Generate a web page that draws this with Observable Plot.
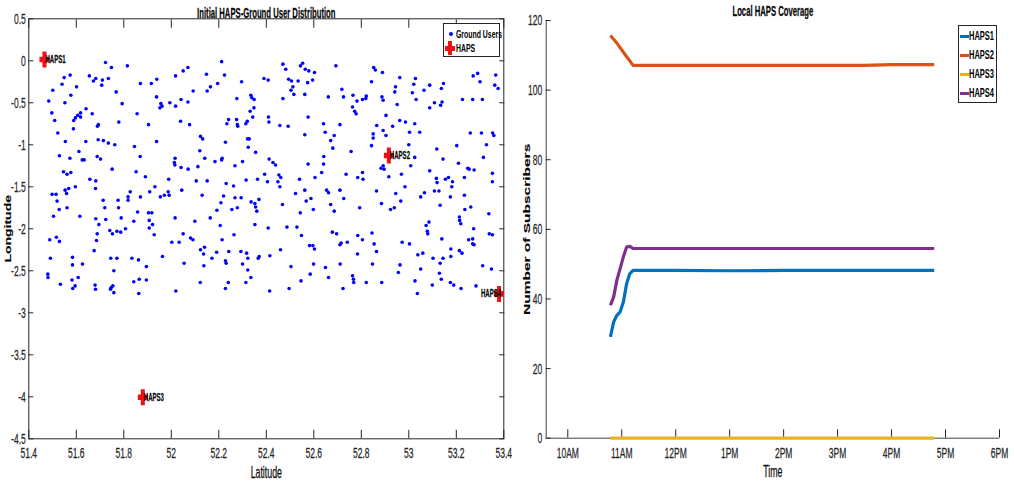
<!DOCTYPE html>
<html>
<head>
<meta charset="utf-8">
<script src="https://cdn.jsdelivr.net/npm/d3@7"></script>
<script src="https://cdn.jsdelivr.net/npm/@observablehq/plot@0.6"></script>
<style>
  html, body { margin: 0; padding: 0; background: #fff; }
  #fig { position: relative; width: 1014px; height: 484px; overflow: hidden;
         font-family: "Liberation Sans", Arial, sans-serif; color: #000; }
  #left, #right { position: absolute; top: 0; }
  #left { left: 0; }
  #right { left: 510px; }
  .legend { position: absolute; border: 1px solid #262626; background: #fff; box-sizing: border-box; }
  .legend .lbl { position: absolute; font-weight: bold; white-space: nowrap;
                 transform: scaleX(0.6); transform-origin: 0 50%; line-height: 1; }
  .legend .sw { position: absolute; }
  svg text { stroke: currentColor; stroke-width: 0.25px; }
</style>
</head>
<body>
<div id="fig">
  <div id="left"></div>
  <div id="right"></div>
</div>
<script>
// ---------- Left panel: ground users and HAPS positions ----------
const latTicks = [51.4, 51.6, 51.8, 52, 52.2, 52.4, 52.6, 52.8, 53, 53.2, 53.4];
const latTickLabels = ["51.4", "51.6", "51.8", "52", "52.2", "52.4", "52.6", "52.8", "53", "53.2", "53.4"];
const lonTicks = [0.5, 0, -0.5, -1, -1.5, -2, -2.5, -3, -3.5, -4, -4.5];
const lonTickLabels = ["0.5", "0", "-0.5", "-1", "-1.5", "-2", "-2.5", "-3", "-3.5", "-4", "-4.5"];

const hapsNames = ["HAPS1", "HAPS2", "HAPS3", "HAPS4"];
const hapsLat = [51.466, 52.916, 51.88, 53.38];
const hapsLon = [0.015, -1.127, -4.005, -2.775];

// [latitude, longitude] of each ground user
const groundUsers = [
  [51.723,-0.02],[51.748,-0.08],[51.815,-0.06],[52.050,-0.12],[52.018,-0.18],[51.549,-0.20],[51.574,-0.17],[51.655,-0.18],
  [51.682,-0.21],[51.672,-0.24],[51.710,-0.23],[51.707,-0.29],[51.735,-0.21],[51.540,-0.28],[51.601,-0.31],[51.870,-0.27],
  [51.916,-0.27],[51.939,-0.22],[51.501,-0.35],[51.768,-0.37],[51.577,-0.41],[51.484,-0.48],[51.552,-0.50],[51.938,-0.43],
  [51.793,-0.51],[51.956,-0.51],[51.961,-0.54],[51.952,-0.56],[51.994,-0.50],[52.018,-0.54],[52.041,-0.46],[51.641,-0.57],
  [51.618,-0.62],[51.606,-0.65],[51.596,-0.68],[51.589,-0.71],[51.618,-0.67],[51.667,-0.63],[51.497,-0.62],[51.509,-0.71],
  [51.856,-0.63],[51.779,-0.73],[51.904,-0.76],[51.693,-0.76],[51.689,-0.78],[52.039,-0.72],[51.588,-0.81],[51.522,-0.86],
  [51.554,-0.96],[51.640,-0.96],[51.692,-0.94],[51.714,-0.95],[51.735,-0.98],[51.762,-1.00],[51.938,-0.96],[51.845,-1.02],
  [51.529,-1.13],[51.573,-1.16],[51.611,-1.08],[51.625,-1.18],[51.633,-1.18],[51.688,-1.14],[51.702,-1.17],[51.869,-1.14],
  [52.016,-1.16],[52.013,-1.21],[52.015,-1.24],[52.041,-1.27],[51.546,-1.32],[51.561,-1.35],[51.577,-1.33],[51.751,-1.29],
  [51.852,-1.32],
  [52.212,-0.01],[52.070,-0.08],[52.148,-0.16],[52.224,-0.17],[52.296,-0.25],[52.195,-0.27],[52.165,-0.31],[52.151,-0.36],
  [52.092,-0.36],[52.070,-0.49],[52.276,-0.45],[52.335,-0.41],[52.339,-0.44],[52.349,-0.46],[52.332,-0.60],[52.348,-0.56],
  [52.343,-0.67],[52.390,-0.21],[52.408,-0.23],[52.470,-0.04],[52.482,-0.10],[52.494,-0.22],[52.506,-0.24],[52.512,-0.31],
  [52.504,-0.35],[52.516,-0.40],[52.534,-0.24],[52.544,-0.06],[52.553,-0.03],[52.564,-0.10],[52.579,-0.12],[52.603,-0.14],
  [52.595,-0.23],[52.574,-0.26],[52.562,-0.40],[52.470,-0.45],[52.693,-0.06],[52.661,-0.43],[52.241,-0.70],[52.234,-0.75],
  [52.275,-0.70],[52.278,-0.76],[52.280,-0.78],[52.320,-0.72],[52.314,-0.75],[52.409,-0.67],[52.411,-0.73],[52.457,-0.77],
  [52.492,-0.78],[52.576,-0.67],[52.077,-0.76],[52.123,-0.90],[52.132,-0.93],[52.228,-0.97],[52.321,-0.93],[52.328,-0.93],
  [52.324,-1.03],[52.355,-1.09],[52.562,-0.88],[52.641,-0.75],[52.710,-0.76],[52.648,-0.85],[52.686,-0.89],[52.671,-0.95],
  [52.680,-1.04],[52.120,-1.07],[52.141,-1.16],[52.184,-1.20],[52.212,-1.18],[52.214,-1.16],[52.268,-1.25],[52.300,-1.20],
  [52.412,-1.17],[52.428,-1.21],[52.439,-1.24],[52.576,-1.23],[52.642,-1.14],[52.641,-1.23],[52.633,-1.33],[52.071,-1.29],
  [52.112,-1.26],[52.393,-1.35],[52.453,-1.36],
  [52.852,-0.08],[52.859,-0.11],[52.889,-0.14],[52.843,-0.25],[52.962,-0.20],[52.944,-0.31],[52.941,-0.37],[53.028,-0.21],
  [53.021,-0.28],[53.015,-0.38],[53.064,-0.35],[53.088,-0.29],[53.146,-0.27],[53.137,-0.33],[53.290,-0.15],[53.271,-0.18],
  [53.300,-0.25],[53.366,-0.17],[53.362,-0.29],[53.376,-0.33],[52.718,-0.34],[52.725,-0.43],[52.765,-0.41],[52.782,-0.48],
  [52.805,-0.46],[52.821,-0.42],[52.819,-0.45],[52.763,-0.55],[52.772,-0.60],[52.778,-0.63],[52.887,-0.43],[52.892,-0.47],
  [52.951,-0.52],[53.031,-0.46],[53.088,-0.56],[53.108,-0.50],[53.134,-0.53],[53.140,-0.49],[53.226,-0.46],[53.269,-0.46],
  [53.310,-0.46],[52.904,-0.65],[52.962,-0.71],[52.986,-0.73],[53.025,-0.75],[52.932,-0.78],[52.865,-0.77],[52.850,-0.87],
  [52.850,-0.92],[52.892,-0.83],[52.904,-0.89],[53.003,-0.85],[53.046,-0.85],[52.843,-1.01],[53.000,-1.00],[53.118,-1.05],
  [53.202,-1.01],[53.259,-0.86],[53.306,-0.86],[53.353,-0.86],[53.358,-0.89],[53.327,-1.00],[53.314,-1.15],[53.144,-1.17],
  [53.209,-1.22],[53.248,-1.28],[53.254,-1.29],[53.275,-1.30],[53.352,-1.34],[52.757,-1.08],[52.892,-1.25],[52.883,-1.28],
  [52.896,-1.29],[52.969,-1.35],[53.008,-1.25],[53.025,-1.15],[53.088,-1.31],[52.736,-1.35],[52.805,-1.33],
  [51.657,-1.41],[51.682,-1.43],[51.681,-1.52],[51.596,-1.50],[51.568,-1.52],[51.553,-1.54],[51.559,-1.58],[51.498,-1.59],
  [51.515,-1.59],[51.519,-1.67],[51.528,-1.77],[51.561,-1.75],[51.504,-1.85],[51.615,-1.85],[51.713,-1.66],[51.720,-1.75],
  [51.776,-1.66],[51.778,-1.75],[51.818,-1.62],[51.818,-1.66],[51.827,-1.56],[51.870,-1.62],[51.909,-1.56],[51.931,-1.50],
  [51.954,-1.62],[51.971,-1.60],[51.987,-1.56],[51.991,-1.60],[52.044,-1.54],[51.891,-1.38],[51.989,-1.41],[51.682,-1.88],
  [51.695,-1.95],[51.724,-1.89],[51.789,-1.87],[51.858,-1.80],[51.842,-1.91],[51.904,-1.81],[51.918,-1.81],[51.907,-1.90],
  [51.921,-1.95],[51.907,-1.99],[51.928,-2.07],[51.741,-2.02],[51.752,-2.06],[51.771,-2.03],[51.787,-2.04],[51.807,-2.00],
  [51.688,-2.06],[51.685,-2.14],[51.488,-2.13],[51.516,-2.10],[51.529,-2.15],[51.675,-2.26],[52.016,-1.87],[52.050,-2.06],
  [52.002,-2.16],[52.033,-2.16],[51.491,-2.35],[51.584,-2.34],[51.584,-2.43],[51.626,-2.42],[51.745,-2.35],[51.771,-2.35],
  [51.834,-2.35],[51.862,-2.37],[51.895,-2.45],[51.963,-2.33],[52.054,-2.41],[51.758,-2.50],[51.480,-2.54],[51.481,-2.58],
  [51.533,-2.66],[51.582,-2.61],[51.608,-2.58],[51.595,-2.68],[51.585,-2.71],[51.679,-2.67],[51.681,-2.72],[51.747,-2.70],
  [51.754,-2.68],[51.744,-2.72],[51.758,-2.76],[51.842,-2.63],[51.865,-2.60],[51.895,-2.61],[51.863,-2.77],[52.019,-2.74],
  [52.105,-1.43],[52.151,-1.43],[52.231,-1.46],[52.262,-1.49],[52.315,-1.42],[52.363,-1.41],[52.405,-1.44],[52.449,-1.44],
  [52.461,-1.39],[52.457,-1.50],[52.540,-1.41],[52.605,-1.39],[52.130,-1.60],[52.220,-1.61],[52.268,-1.63],[52.294,-1.63],
  [52.209,-1.69],[52.192,-1.78],[52.255,-1.77],[52.278,-1.75],[52.336,-1.68],[52.352,-1.70],[52.369,-1.65],[52.355,-1.74],
  [52.360,-1.79],[52.468,-1.71],[52.523,-1.58],[52.562,-1.54],[52.568,-1.67],[52.588,-1.64],[52.598,-1.77],[52.543,-1.81],
  [52.654,-1.54],[52.662,-1.57],[52.710,-1.54],[52.671,-1.71],[52.686,-1.79],[52.099,-1.91],[52.164,-1.87],[52.206,-1.96],
  [52.352,-1.95],[52.408,-1.99],[52.487,-1.98],[52.529,-1.98],[52.548,-2.08],[52.264,-2.07],[52.214,-2.13],[52.081,-2.11],
  [52.091,-2.13],[52.140,-2.22],[52.123,-2.25],[52.136,-2.30],[52.171,-2.35],[52.191,-2.28],[52.242,-2.27],[52.293,-2.27],
  [52.317,-2.29],[52.322,-2.35],[52.366,-2.35],[52.370,-2.33],[52.415,-2.32],[52.460,-2.25],[52.582,-2.20],[52.596,-2.20],
  [52.603,-2.24],[52.678,-2.04],[52.696,-2.06],[52.710,-2.19],[52.715,-2.17],[52.137,-2.44],[52.228,-2.38],[52.231,-2.41],
  [52.300,-2.42],[52.322,-2.49],[52.335,-2.58],[52.314,-2.64],[52.240,-2.64],[52.228,-2.71],[52.122,-2.64],[52.414,-2.74],
  [52.504,-2.45],[52.546,-2.62],[52.585,-2.54],[52.599,-2.42],[52.649,-2.46],[52.662,-2.58],[52.711,-2.42],[52.496,-2.71],
  [52.785,-1.39],[52.807,-1.41],[52.916,-1.38],[53.116,-1.40],[53.119,-1.45],[53.154,-1.41],[53.167,-1.39],[53.184,-1.44],
  [53.181,-1.50],[53.234,-1.39],[53.352,-1.44],[52.864,-1.55],[52.726,-1.64],[52.945,-1.58],[52.966,-1.67],[52.984,-1.50],
  [52.885,-1.70],[52.923,-1.77],[52.939,-1.75],[52.793,-1.75],[53.050,-1.62],[53.066,-1.57],[53.108,-1.55],[53.127,-1.55],
  [53.175,-1.62],[53.234,-1.60],[53.132,-1.72],[53.236,-1.77],[53.261,-1.74],[53.213,-1.86],[53.214,-1.90],[53.219,-1.94],
  [53.273,-2.00],[53.337,-1.82],[53.085,-1.92],[53.073,-1.96],[53.078,-2.03],[53.080,-2.06],[53.139,-2.12],[53.252,-2.13],
  [53.269,-2.12],[53.269,-2.18],[53.275,-2.19],[53.339,-2.06],[53.352,-2.07],[52.741,-2.16],[52.785,-2.08],[52.805,-2.13],
  [52.845,-2.05],[52.854,-2.18],[52.864,-2.27],[52.972,-2.16],[53.003,-2.18],[52.784,-2.30],[53.038,-2.31],[53.059,-2.29],
  [53.102,-2.35],[53.132,-2.41],[53.144,-2.35],[53.177,-2.24],[53.177,-2.33],[53.213,-2.26],[53.224,-2.29],[52.847,-2.42],
  [52.963,-2.43],[52.956,-2.52],[53.050,-2.48],[53.129,-2.53],[53.137,-2.60],[52.763,-2.56],[52.767,-2.60],[52.768,-2.64],
  [52.821,-2.64],[52.886,-2.64],[53.026,-2.62],[53.099,-2.67],[53.175,-2.64],[53.189,-2.67],[53.220,-2.71],[53.283,-2.68],
  [53.311,-2.44],[53.348,-2.48],[52.723,-2.71],[53.036,-2.77]
];

// ---------- Right panel: subscribers per HAPS over time ----------
const timeTicks = [10, 11, 12, 13, 14, 15, 16, 17, 18];
const timeTickLabels = ["10AM", "11AM", "12PM", "1PM", "2PM", "3PM", "4PM", "5PM", "6PM"];
const timeDomain = [9.6, 18];
const subsTicks = [0, 20, 40, 60, 80, 100, 120];

// time in hours of day
const coverageTime = [10.79, 10.85, 10.91, 10.97, 11.03, 11.09, 11.15, 11.21, 11.3, 12, 13, 14, 15, 15.5, 16, 16.79];
const haps1Subs = [29.1, 33.4, 35.3, 36.3, 39.1, 44.4, 47.3, 48.2, 48.2, 48.2, 48.1, 48.2, 48.2, 48.2, 48.2, 48.2];
const haps2Subs = [115.7, 114.6, 113.5, 112.2, 110.9, 109.6, 108.4, 107.1, 107.1, 107.1, 107.1, 107.1, 107.1, 107.1, 107.3, 107.3];
const haps3Subs = [0, 0, 0, 0, 0, 0, 0, 0, 0, 0, 0, 0, 0, 0, 0, 0];
const haps4Subs = [38.2, 40.6, 45.4, 48.7, 52.1, 54.9, 55.1, 54.5, 54.5, 54.5, 54.5, 54.5, 54.5, 54.5, 54.5, 54.5];

const seriesNames = ["HAPS1", "HAPS2", "HAPS3", "HAPS4"];
const seriesColors = ["#0072BD", "#D95319", "#EDB120", "#7E2F8E"];

// ---------- helpers ----------
const axisColor = "#262626";
const fontStack = "'Liberation Sans', Arial, sans-serif";

// filled plus sign used for the HAPS markers
const plusSymbol = {
  draw(ctx) {
    ctx.rect(-2, -8, 4, 16);
    ctx.rect(-5, -2.8, 10, 5.6);
  }
};

// narrow the glyphs of every label (rotated labels are narrowed across their height)
function condense(svg) {
  svg.querySelectorAll("text").forEach(t => {
    const tr = t.getAttribute("transform");
    if (tr === null) return;
    t.setAttribute("transform", tr + (tr.includes("rotate") ? " scale(1,0.6)" : " scale(0.55,1)"));
  });
  return svg;
}

const users = groundUsers.map(([lat, lon]) => ({lat, lon}));
const haps = hapsNames.map((name, i) => ({name, lat: hapsLat[i], lon: hapsLon[i]}));

const left = Plot.plot({
  width: 510, height: 484,
  marginLeft: 28.3, marginRight: 6.7, marginTop: 18.3, marginBottom: 45.7,
  style: {fontFamily: fontStack, fontSize: "15.5px", color: axisColor, background: "transparent", overflow: "visible"},
  x: {domain: [51.4, 53.4]},
  y: {domain: [-4.5, 0.5]},
  marks: [
    Plot.frame({stroke: axisColor, strokeWidth: 1}),
    Plot.axisX(latTicks, {anchor: "bottom", tickSize: -8.5, tickPadding: 16.5, label: null,
      tickFormat: (d, i) => latTickLabels[i], stroke: axisColor}),
    Plot.axisX(latTicks, {anchor: "top", tickSize: -8.5, label: null, tickFormat: () => "", stroke: axisColor}),
    Plot.axisY(lonTicks, {anchor: "left", tickSize: -5, tickPadding: 8, label: null,
      tickFormat: (d, i) => lonTickLabels[i], stroke: axisColor}),
    Plot.axisY(lonTicks, {anchor: "right", tickSize: -5, label: null, tickFormat: () => "", stroke: axisColor}),
    Plot.dot(users, {x: "lat", y: "lon", r: 1.8, fill: "#0000ff", stroke: null}),
    Plot.dot(haps, {x: "lat", y: "lon", symbol: plusSymbol, fill: "#ee1111", stroke: null}),
    Plot.text(haps.filter(d => d.name !== "HAPS4"), {x: "lat", y: "lon", text: "name", textAnchor: "start",
      dx: 1, fontSize: 11, fontWeight: "bold", fill: "#000"}),
    Plot.text(haps.filter(d => d.name === "HAPS4"), {x: "lat", y: "lon", text: "name", textAnchor: "end",
      dx: 2, fontSize: 11, fontWeight: "bold", fill: "#000"}),
    Plot.text(["Initial HAPS-Ground User Distribution"], {frameAnchor: "top", dy: -11, fontSize: 14,
      fontWeight: "bold", fill: "#000"}),
    Plot.text(["Latitude"], {frameAnchor: "bottom", dy: 39, fontSize: 16, fill: "#000"}),
    Plot.text(["Longitude"], {frameAnchor: "left", textAnchor: "middle", dx: -20, rotate: -90, fontSize: 14,
      fontWeight: "bold", fill: "#000"})
  ]
});
document.getElementById("left").appendChild(condense(left));

const coverage = seriesNames.flatMap((name, s) => {
  const vals = [haps1Subs, haps2Subs, haps3Subs, haps4Subs][s];
  return coverageTime.map((t, i) => ({series: name, t, v: vals[i]}));
});

const right = Plot.plot({
  width: 504, height: 484,
  marginLeft: 35.7, marginRight: 15, marginTop: 20, marginBottom: 46.3,
  style: {fontFamily: fontStack, fontSize: "15.5px", color: axisColor, background: "transparent", overflow: "visible"},
  x: {domain: timeDomain},
  y: {domain: [0, 120]},
  color: {domain: seriesNames, range: seriesColors},
  marks: [
    Plot.ruleX([timeDomain[0]], {stroke: "#404040", strokeWidth: 1}),
    Plot.ruleY([0], {stroke: "#404040", strokeWidth: 1}),
    Plot.axisX(timeTicks, {anchor: "bottom", tickSize: -8.5, tickPadding: 17.5, label: null,
      tickFormat: (d, i) => timeTickLabels[i], stroke: axisColor}),
    Plot.axisY(subsTicks, {anchor: "left", tickSize: -5, tickPadding: 9, label: null, stroke: axisColor}),
    Plot.line(coverage, {x: "t", y: "v", z: "series", stroke: "series", strokeWidth: 3.2,
      strokeLinejoin: "round", strokeLinecap: "butt"}),
    Plot.text(["Local HAPS Coverage"], {frameAnchor: "top", dy: -14, fontSize: 14, fontWeight: "bold", fill: "#000"}),
    Plot.text(["Time"], {frameAnchor: "bottom", dy: 39, fontSize: 16, fill: "#000"}),
    Plot.text(["Number of Subscribers"], {frameAnchor: "left", textAnchor: "middle", dx: -19, rotate: -90,
      fontSize: 15.5, fontWeight: "bold", fill: "#000"})
  ]
});
document.getElementById("right").appendChild(condense(right));

// ---------- legends ----------
const fig = document.getElementById("fig");

const legL = document.createElement("div");
legL.className = "legend";
Object.assign(legL.style, {left: "443px", top: "23px", width: "57px", height: "34px"});
legL.innerHTML = `
  <span class="sw" style="left:5px;top:8px;width:4px;height:4px;border-radius:50%;background:#0000ff"></span>
  <span class="lbl" style="left:12px;top:5px;font-size:11.5px">Ground Users</span>
  <span class="sw" style="left:4px;top:17px;width:4px;height:14px;background:#ee1111"></span>
  <span class="sw" style="left:1px;top:21.5px;width:10px;height:5px;background:#ee1111"></span>
  <span class="lbl" style="left:12px;top:19px;font-size:11.5px">HAPS</span>`;
fig.appendChild(legL);

const legR = document.createElement("div");
legR.className = "legend";
Object.assign(legR.style, {left: "958px", top: "25px", width: "39px", height: "78px"});
legR.innerHTML = seriesNames.map((n, i) => `
  <span class="sw" style="left:1px;top:${8.5 + i * 19}px;width:9px;height:3px;background:${seriesColors[i]}"></span>
  <span class="lbl" style="left:10px;top:${4 + i * 19}px;font-size:12.5px">${n}</span>`).join("");
fig.appendChild(legR);
</script>
</body>
</html>
